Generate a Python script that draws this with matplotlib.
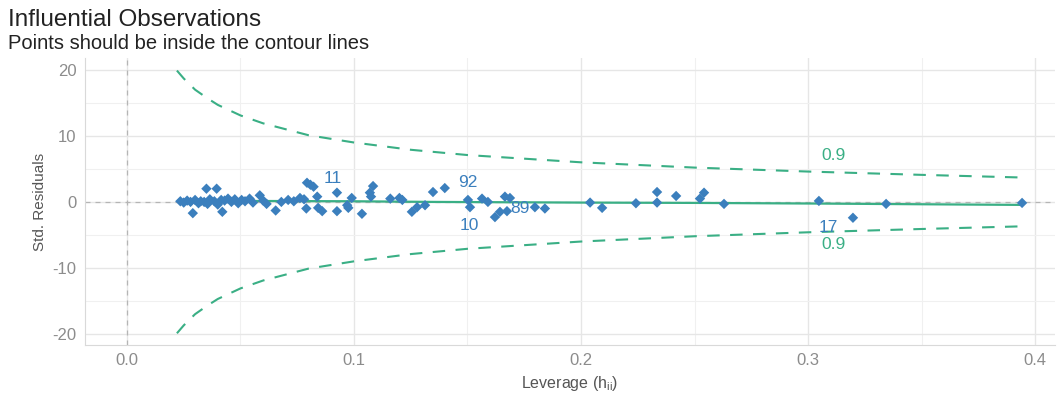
import matplotlib.pyplot as plt
import numpy as np

# leverage / standardized residual pairs
leverage = [
    0.0235, 0.0250, 0.0265, 0.0280, 0.0290, 0.0300, 0.0315, 0.0325, 0.0350, 0.0340,
    0.0355, 0.0365, 0.0395, 0.0385, 0.0400, 0.0415, 0.0420, 0.0430, 0.0445, 0.0460,
    0.0475, 0.0490, 0.0505, 0.0520, 0.0540, 0.0555, 0.0585, 0.0600, 0.0615, 0.0655,
    0.0680, 0.0710, 0.0735, 0.0762, 0.0780, 0.0793, 0.0808, 0.0822, 0.0790, 0.0838,
    0.0842, 0.0860, 0.0925, 0.0925, 0.0970, 0.0975, 0.0990, 0.1035, 0.1084, 0.1070,
    0.1075, 0.1160, 0.1200, 0.1213, 0.1255, 0.1278, 0.1313, 0.1348, 0.1400, 0.1502,
    0.1511, 0.1564, 0.1590, 0.1665, 0.1687, 0.1621, 0.1643, 0.1674, 0.1797, 0.1841,
    0.2040, 0.2093, 0.2242, 0.2335, 0.2335, 0.2419, 0.2524, 0.2542, 0.2630, 0.3048,
    0.3198, 0.3344, 0.3943,
]
std_resid = [
    0.1, -0.1, 0.2, 0.0, -1.7, 0.3, -0.2, 0.1, 2.0, 0.0,
    -0.3, 0.4, 2.0, 0.1, -0.4, 0.3, -1.5, 0.2, 0.5, 0.0,
    0.4, -0.2, 0.3, 0.1, 0.5, -0.1, 1.0, 0.2, -0.3, -1.3,
    0.0, 0.3, 0.1, 0.6, 0.4, 2.9, 2.6, 2.3, -1.0, 0.8,
    -0.9, -1.4, 1.4, -1.4, -0.5, -0.9, 0.6, -1.8, 2.4, 1.4,
    0.8, 0.5, 0.6, 0.3, -1.5, -0.8, -0.5, 1.5, 2.1, 0.3,
    -0.8, 0.5, 0.0, 0.8, 0.6, -2.3, -1.5, -1.4, -0.8, -1.0,
    -0.1, -0.9, -0.2, 1.5, -0.1, 0.9, 0.5, 1.4, -0.3, 0.15,
    -2.4, -0.3, -0.15,
]

# labelled observations
obs_ids = ["11", "92", "10", "89", "17"]
obs_x = [0.0905, 0.1500, 0.1510, 0.1730, 0.3090]
obs_y = [3.6, 3.0, -3.6, -1.0, -3.9]

# smoothed trend
smooth_x = [0.023, 0.05, 0.10, 0.135, 0.20, 0.25, 0.305, 0.37, 0.394]
smooth_y = [0.15, 0.15, 0.10, 0.0, -0.1, -0.15, -0.25, -0.4, -0.45]

# Cook's distance contour (0.9), upper half; lower half is mirrored
contour_h = [0.022, 0.025, 0.030, 0.035, 0.040, 0.050, 0.060, 0.080, 0.100,
             0.125, 0.150, 0.200, 0.250, 0.300, 0.350, 0.394]
contour_r = [19.9, 18.7, 17.0, 15.8, 14.7, 13.1, 11.9, 10.1, 9.0,
             7.9, 7.1, 6.0, 5.2, 4.6, 4.1, 3.7]

plt.rcParams['font.family'] = ['Liberation Sans', 'DejaVu Sans']
plt.rcParams['axes.unicode_minus'] = False

green = "#3aaf85"
blue = "#3b7fbd"
grey_txt = "#8c8c8c"

fig = plt.figure(figsize=(10.57, 3.94), dpi=100)
ax = fig.add_axes([0.0804, 0.1244, 0.9177, 0.7284])

ax.set_xlim(-0.0185, 0.4088)
ax.set_ylim(-21.67, 21.8)

ax.set_xticks([0.0, 0.1, 0.2, 0.3, 0.4])
ax.set_xticks(np.arange(0.05, 0.41, 0.1), minor=True)
ax.set_yticks([-20, -10, 0, 10, 20])
ax.set_yticks([-15, -5, 5, 15], minor=True)
ax.grid(True, which='major', color='#e6e6e6', lw=1.0)
ax.grid(True, which='minor', color='#f0f0f0', lw=0.8)
ax.set_axisbelow(True)

for side in ['top', 'right']:
    ax.spines[side].set_visible(False)
for side in ['left', 'bottom']:
    ax.spines[side].set_color('#d9d9d9')
ax.tick_params(which='both', length=0, labelsize=12, colors=grey_txt, pad=6)

ax.axhline(0, color='#b5b5b5', ls=(0, (4, 4)), lw=0.9, zorder=1)
ax.axvline(0, color='#b5b5b5', ls=(0, (4, 4)), lw=0.9, zorder=1)

ch = np.array(contour_h)
cr = np.array(contour_r)
ax.plot(ch, cr, color=green, ls=(0, (6, 5)), lw=1.5, zorder=2)
ax.plot(ch, -cr, color=green, ls=(0, (6, 5)), lw=1.5, zorder=2)
ax.text(0.306, 7.0, "0.9", color=green, fontsize=12.5, va='center')
ax.text(0.306, -6.4, "0.9", color=green, fontsize=12.5, va='center')

ax.plot(smooth_x, smooth_y, color=green, lw=1.6, zorder=3)
ax.scatter(leverage, std_resid, marker='D', s=28, color=blue, edgecolors='none', zorder=4)

for t, x, y in zip(obs_ids, obs_x, obs_y):
    ax.text(x, y, t, color=blue, fontsize=12.5, ha='center', va='center', zorder=5)

ax.set_xlabel("Leverage (h$_{\\mathregular{ii}}$)", fontsize=11.5, color='#555555', labelpad=4)
ax.set_ylabel("Std. Residuals", fontsize=11, color='#555555', labelpad=4)

fig.text(0.0076, 0.950, "Influential Observations", fontsize=17.5, color='#222222', va='center')
fig.text(0.0076, 0.890, "Points should be inside the contour lines", fontsize=14.5, color='#222222', va='center')

fig.savefig("out.png", dpi=100)
